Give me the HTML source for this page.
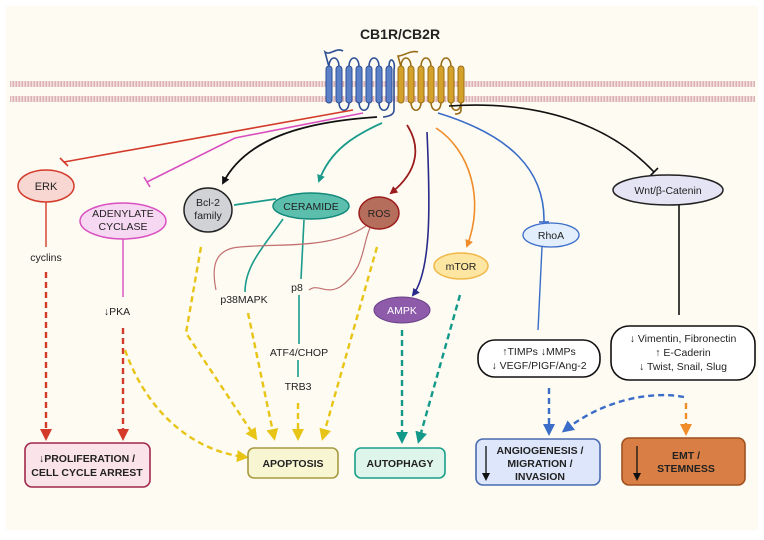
<!DOCTYPE html>
<html><head><meta charset="utf-8"><style>
html,body{margin:0;padding:0;background:#fff;}
svg{display:block;font-family:"Liberation Sans",sans-serif;}
</style></head><body>
<svg width="764" height="540" viewBox="0 0 764 540" xmlns="http://www.w3.org/2000/svg">
<defs>
<marker id="aBk" markerWidth="8" markerHeight="8" refX="6" refY="4" orient="auto" markerUnits="userSpaceOnUse"><path d="M0,0 L8,4 L0,8 Z" fill="#111"/></marker>
<marker id="aTl" markerWidth="8" markerHeight="8" refX="6" refY="4" orient="auto" markerUnits="userSpaceOnUse"><path d="M0,0 L8,4 L0,8 Z" fill="#1a9a8a"/></marker>
<marker id="aDr" markerWidth="8" markerHeight="8" refX="6" refY="4" orient="auto" markerUnits="userSpaceOnUse"><path d="M0,0 L8,4 L0,8 Z" fill="#9b1c1c"/></marker>
<marker id="aNv" markerWidth="8" markerHeight="8" refX="6" refY="4" orient="auto" markerUnits="userSpaceOnUse"><path d="M0,0 L8,4 L0,8 Z" fill="#2a2a8a"/></marker>
<marker id="aOr" markerWidth="8" markerHeight="8" refX="6" refY="4" orient="auto" markerUnits="userSpaceOnUse"><path d="M0,0 L8,4 L0,8 Z" fill="#f08c2a"/></marker>
<marker id="bRd" markerWidth="12" markerHeight="12" refX="8" refY="6" orient="auto" markerUnits="userSpaceOnUse"><path d="M0,0 L12,6 L0,12 Z" fill="#d43a2a"/></marker>
<marker id="bYl" markerWidth="12" markerHeight="12" refX="8" refY="6" orient="auto" markerUnits="userSpaceOnUse"><path d="M0,0 L12,6 L0,12 Z" fill="#e8c417"/></marker>
<marker id="bTl" markerWidth="12" markerHeight="12" refX="8" refY="6" orient="auto" markerUnits="userSpaceOnUse"><path d="M0,0 L12,6 L0,12 Z" fill="#12998a"/></marker>
<marker id="bBl" markerWidth="12" markerHeight="12" refX="8" refY="6" orient="auto" markerUnits="userSpaceOnUse"><path d="M0,0 L12,6 L0,12 Z" fill="#3a6cc8"/></marker>
<marker id="bOr" markerWidth="12" markerHeight="12" refX="8" refY="6" orient="auto" markerUnits="userSpaceOnUse"><path d="M0,0 L12,6 L0,12 Z" fill="#f08c2a"/></marker>
<pattern id="mem" width="3" height="6" patternUnits="userSpaceOnUse"><rect width="3" height="6" fill="#f5e3e3"/><rect x="0.5" width="1.6" height="6" fill="#dcb2b2"/></pattern>
</defs>
<rect x="6" y="6" width="752" height="524" fill="#fdfbf2"/>
<text x="400" y="39" font-size="14" font-weight="bold" text-anchor="middle" fill="#222">CB1R/CB2R</text>
<rect x="10" y="81" width="745" height="6" fill="url(#mem)"/>
<rect x="10" y="96" width="745" height="6" fill="url(#mem)"/>
<!-- blue receptor loops -->
<path d="M343,51 C336,47 330,56 325,52 L329,67 M329,67 C329,55 339,55 339,67 M339,102 C339,113 349,113 349,102 M349,67 C349,55 359,55 359,67 M359,102 C359,113 369,113 369,102 M369,67 C369,55 379,55 379,67 M379,102 C379,113 389,113 389,102 M389,67 C389,55 396,60 394,70 L394,110 Q394,116 383,117" fill="none" stroke="#2e4f96" stroke-width="1.6"/>
<g fill="#5b82c8" stroke="#2e4f96" stroke-width="1">
<rect x="326" y="66" width="6" height="37" rx="3"/><rect x="336" y="66" width="6" height="37" rx="3"/><rect x="346" y="66" width="6" height="37" rx="3"/><rect x="356" y="66" width="6" height="37" rx="3"/><rect x="366" y="66" width="6" height="37" rx="3"/><rect x="376" y="66" width="6" height="37" rx="3"/><rect x="386" y="66" width="6" height="37" rx="3"/>
</g>
<path d="M418,52 C410,50 404,56 398,56 L401,67 M401,67 C401,55 411,55 411,67 M411,102 C411,113 421,113 421,102 M421,67 C421,55 431,55 431,67 M431,102 C431,113 441,113 441,102 M441,67 C441,55 451,55 451,67 M451,102 C451,113 461,113 461,102 M461,102 L461,110 Q461,114 455,114" fill="none" stroke="#9a6d16" stroke-width="1.6"/>
<g fill="#d4a22a" stroke="#9a6d16" stroke-width="1">
<rect x="398" y="66" width="6" height="37" rx="3"/><rect x="408" y="66" width="6" height="37" rx="3"/><rect x="418" y="66" width="6" height="37" rx="3"/><rect x="428" y="66" width="6" height="37" rx="3"/><rect x="438" y="66" width="6" height="37" rx="3"/><rect x="448" y="66" width="6" height="37" rx="3"/><rect x="458" y="66" width="6" height="37" rx="3"/>
</g>
<!-- signaling lines -->
<path d="M353,110 L64,162" stroke="#d43a2a" stroke-width="1.6" fill="none"/>
<path d="M60,158 L68,166" stroke="#d43a2a" stroke-width="1.6"/>
<path d="M363,113 L235,138 L147,182" stroke="#d94fc0" stroke-width="1.6" fill="none"/>
<path d="M144,177 L150,187" stroke="#d94fc0" stroke-width="1.6"/>
<path d="M377,117 C300,122 245,140 223,183" stroke="#111" stroke-width="1.8" fill="none" marker-end="url(#aBk)"/>
<path d="M382,123 C355,135 330,150 319,181" stroke="#1a9a8a" stroke-width="1.8" fill="none" marker-end="url(#aTl)"/>
<path d="M407,125 C420,145 420,170 391,193" stroke="#9b1c1c" stroke-width="1.8" fill="none" marker-end="url(#aDr)"/>
<path d="M427,132 C430,200 432,270 413,295" stroke="#2a2a8a" stroke-width="1.6" fill="none" marker-end="url(#aNv)"/>
<path d="M436,128 C470,150 485,200 467,246" stroke="#f08c2a" stroke-width="1.6" fill="none" marker-end="url(#aOr)"/>
<path d="M438,113 C510,135 545,170 544,222" stroke="#3a6cc8" stroke-width="1.6" fill="none"/>
<path d="M539,222 L549,222" stroke="#3a6cc8" stroke-width="1.6"/>
<path d="M449,106 C540,100 610,125 654,172" stroke="#111" stroke-width="1.6" fill="none"/>
<path d="M650,176 L658,168" stroke="#111" stroke-width="1.6"/>
<!-- lower connectors -->
<path d="M46,201 L46,247" stroke="#d43a2a" stroke-width="1.4"/>
<path d="M46,272 L46,437" stroke="#d43a2a" stroke-width="2.4" stroke-dasharray="6,4" marker-end="url(#bRd)" fill="none"/>
<path d="M123,238 L123,297" stroke="#d94fc0" stroke-width="1.4"/>
<path d="M123,328 L123,437" stroke="#d43a2a" stroke-width="2.4" stroke-dasharray="6,4" marker-end="url(#bRd)" fill="none"/>
<path d="M125,350 C150,420 200,452 245,457" stroke="#e8c417" stroke-width="2.4" stroke-dasharray="6,4" marker-end="url(#bYl)" fill="none"/>
<path d="M201,247 L186,333 L255,437" stroke="#e8c417" stroke-width="2.4" stroke-dasharray="6,4" marker-end="url(#bYl)" fill="none"/>
<path d="M248,313 L274,437" stroke="#e8c417" stroke-width="2.4" stroke-dasharray="6,4" marker-end="url(#bYl)" fill="none"/>
<path d="M298,403 L298,437" stroke="#e8c417" stroke-width="2.4" stroke-dasharray="6,4" marker-end="url(#bYl)" fill="none"/>
<path d="M377,247 L323,437" stroke="#e8c417" stroke-width="2.4" stroke-dasharray="6,4" marker-end="url(#bYl)" fill="none"/>
<path d="M234,205 L276,199" stroke="#1a9a8a" stroke-width="1.8"/>
<path d="M283,219 C265,245 245,265 245,292" stroke="#1a9a8a" stroke-width="1.6" fill="none"/>
<path d="M304,220 L301,279" stroke="#1a9a8a" stroke-width="1.6"/>
<path d="M299,295 L299,344" stroke="#1a9a8a" stroke-width="1.6"/>
<path d="M298,360 L298,377" stroke="#1a9a8a" stroke-width="1.6"/>
<path d="M366,226 C330,250 280,243 240,247 C212,249 212,270 216,290" stroke="#c27070" stroke-width="1.2" fill="none"/>
<path d="M370,228 C362,245 365,270 340,287 C325,295 318,283 309,290" stroke="#c27070" stroke-width="1.2" fill="none"/>
<path d="M402,330 L402,440" stroke="#12998a" stroke-width="2.4" stroke-dasharray="6,4" marker-end="url(#bTl)" fill="none"/>
<path d="M460,295 L419,440" stroke="#12998a" stroke-width="2.4" stroke-dasharray="6,4" marker-end="url(#bTl)" fill="none"/>
<path d="M542,247 L538,330" stroke="#3a6cc8" stroke-width="1.4"/>
<path d="M679,205 L679,315" stroke="#111" stroke-width="1.6"/>
<path d="M549,388 L549,432" stroke="#3a6cc8" stroke-width="2.4" stroke-dasharray="6,4" marker-end="url(#bBl)" fill="none"/>
<path d="M684,397 C660,392 610,395 565,430" stroke="#3a6cc8" stroke-width="2.4" stroke-dasharray="6,4" marker-end="url(#bBl)" fill="none"/>
<path d="M686,403 L686,432" stroke="#f08c2a" stroke-width="2.4" stroke-dasharray="6,4" marker-end="url(#bOr)" fill="none"/>
<!-- nodes -->
<ellipse cx="46" cy="186" rx="28" ry="16" fill="#f8d7d2" stroke="#d43a2a" stroke-width="1.5"/>
<text x="46" y="190" font-size="11" text-anchor="middle" fill="#222">ERK</text>
<ellipse cx="123" cy="221" rx="43" ry="18" fill="#f7d8f2" stroke="#d94fc0" stroke-width="1.5"/>
<text x="123" y="217" font-size="10.5" text-anchor="middle" fill="#222">ADENYLATE</text>
<text x="123" y="230" font-size="10.5" text-anchor="middle" fill="#222">CYCLASE</text>
<ellipse cx="208" cy="210" rx="24" ry="22" fill="#d0d2d6" stroke="#222" stroke-width="1.5"/>
<text x="208" y="206" font-size="10.5" text-anchor="middle" fill="#222">Bcl-2</text>
<text x="208" y="219" font-size="10.5" text-anchor="middle" fill="#222">family</text>
<ellipse cx="311" cy="206" rx="38" ry="13" fill="#5cbfae" stroke="#138a7a" stroke-width="1.5"/>
<text x="311" y="210" font-size="10.5" text-anchor="middle" fill="#222">CERAMIDE</text>
<ellipse cx="379" cy="213" rx="20" ry="16" fill="#b66e5c" stroke="#9b1c1c" stroke-width="1.5"/>
<text x="379" y="217" font-size="10.5" text-anchor="middle" fill="#222">ROS</text>
<ellipse cx="461" cy="266" rx="27" ry="13" fill="#fde6a2" stroke="#f0b94a" stroke-width="1.5"/>
<text x="461" y="270" font-size="10.5" text-anchor="middle" fill="#222">mTOR</text>
<ellipse cx="402" cy="310" rx="28" ry="13" fill="#8e5bab" stroke="#6a3f88" stroke-width="1"/>
<text x="402" y="314" font-size="10.5" text-anchor="middle" fill="#fff">AMPK</text>
<ellipse cx="551" cy="235" rx="28" ry="12" fill="#e3eefc" stroke="#3a6cc8" stroke-width="1.3"/>
<text x="551" y="239" font-size="10.5" text-anchor="middle" fill="#222">RhoA</text>
<ellipse cx="668" cy="190" rx="55" ry="15" fill="#e4e4f4" stroke="#222" stroke-width="1.5"/>
<text x="668" y="194" font-size="10.5" text-anchor="middle" fill="#222">Wnt/β-Catenin</text>
<g font-size="10.5" fill="#222" text-anchor="middle">
<text x="46" y="261">cyclins</text>
<text x="117" y="315">↓PKA</text>
<text x="244" y="303">p38MAPK</text>
<text x="297" y="291">p8</text>
<text x="299" y="356">ATF4/CHOP</text>
<text x="298" y="390">TRB3</text>
</g>
<rect x="478" y="340" width="122" height="37" rx="17" fill="#fff" stroke="#111" stroke-width="1.6"/>
<text x="539" y="355" font-size="10.5" text-anchor="middle" fill="#222">↑TIMPs ↓MMPs</text>
<text x="539" y="369" font-size="10.5" text-anchor="middle" fill="#222">↓ VEGF/PIGF/Ang-2</text>
<rect x="611" y="326" width="144" height="54" rx="18" fill="#fff" stroke="#111" stroke-width="1.6"/>
<text x="683" y="342" font-size="10.5" text-anchor="middle" fill="#222">↓ Vimentin, Fibronectin</text>
<text x="683" y="356" font-size="10.5" text-anchor="middle" fill="#222">↑ E-Caderin</text>
<text x="683" y="370" font-size="10.5" text-anchor="middle" fill="#222">↓ Twist, Snail, Slug</text>
<!-- outcome boxes -->
<rect x="25" y="443" width="125" height="44" rx="7" fill="#fbe3ea" stroke="#a0284a" stroke-width="1.6"/>
<text x="87" y="462" font-size="10.5" font-weight="bold" text-anchor="middle" fill="#222">↓PROLIFERATION /</text>
<text x="87" y="476" font-size="10.5" font-weight="bold" text-anchor="middle" fill="#222">CELL CYCLE ARREST</text>
<rect x="248" y="448" width="90" height="30" rx="6" fill="#f8f5d2" stroke="#a89a40" stroke-width="1.6"/>
<text x="293" y="467" font-size="10.5" font-weight="bold" text-anchor="middle" fill="#222">APOPTOSIS</text>
<rect x="355" y="448" width="90" height="30" rx="6" fill="#def5ec" stroke="#1aa08a" stroke-width="1.6"/>
<text x="400" y="467" font-size="10.5" font-weight="bold" text-anchor="middle" fill="#222">AUTOPHAGY</text>
<rect x="476" y="439" width="124" height="46" rx="7" fill="#dde6fa" stroke="#4a6ab0" stroke-width="1.6"/>
<path d="M486,446 L486,479" stroke="#111" stroke-width="1.3" marker-end="url(#aBk)"/>
<text x="540" y="454" font-size="10.5" font-weight="bold" text-anchor="middle" fill="#222">ANGIOGENESIS /</text>
<text x="540" y="467" font-size="10.5" font-weight="bold" text-anchor="middle" fill="#222">MIGRATION /</text>
<text x="540" y="480" font-size="10.5" font-weight="bold" text-anchor="middle" fill="#222">INVASION</text>
<rect x="622" y="438" width="123" height="47" rx="7" fill="#d97f45" stroke="#a05020" stroke-width="1.6"/>
<path d="M637,446 L637,479" stroke="#111" stroke-width="1.3" marker-end="url(#aBk)"/>
<text x="686" y="459" font-size="10.5" font-weight="bold" text-anchor="middle" fill="#222">EMT /</text>
<text x="686" y="472" font-size="10.5" font-weight="bold" text-anchor="middle" fill="#222">STEMNESS</text>
</svg>
</body></html>
